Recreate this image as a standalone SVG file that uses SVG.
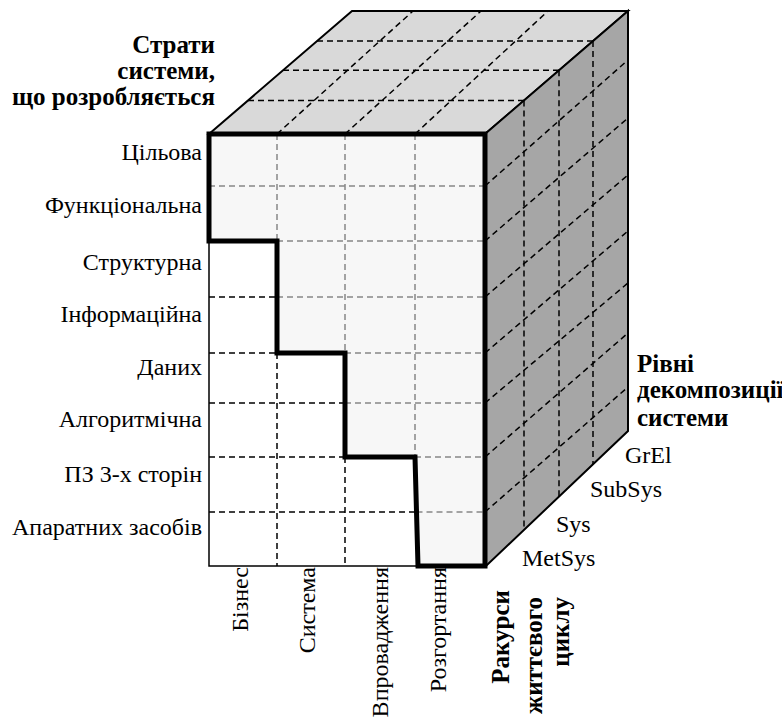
<svg xmlns="http://www.w3.org/2000/svg" width="782" height="718" viewBox="0 0 782 718">
<style>
.t{font-family:"Liberation Serif","Times New Roman",serif;font-size:24px;fill:#000}
.b{font-weight:bold;font-size:25px}
.e{text-anchor:end}
.dk{stroke:#000;stroke-width:1.5;stroke-dasharray:6 4;fill:none}
.dg{stroke:#888;stroke-width:1.5;stroke-dasharray:6 4;fill:none}
</style>
<rect width="782" height="718" fill="#fff"/>
<g id="top-face">
<polygon points="209,134 352,11 628,11 485,134" fill="#d9d9d9" stroke="#000" stroke-width="2" stroke-linejoin="miter"/>
<path class="dk" d="M248,100.4H524M283,70.3H559M317,41.1H593M277,134L413,11M345,134L481,11M415,134L548,11"/>
</g>
<g id="right-face">
<polygon points="485,134 628,11 628,431 486,566" fill="#a6a6a6" stroke="#000" stroke-width="2"/>
<path class="dk" d="M524,100.4V529M559,70.3V496.6M593,41.1V464"/>
<path class="dk" d="M485,186L628,60M485,241L628,118M485,297L628,175M485,353L628,231M485,403L628,283M485,457L628,333M485,512L628,387"/>
</g>
<g id="front-face">
<rect x="209" y="134" width="276" height="432" fill="#fff" stroke="#000" stroke-width="1.5"/>
<polygon points="209,134 485,134 485,566 418,566 415,457 345,457 345,353 277,353 277,241 209,241" fill="#f7f7f7"/>
<path class="dg" d="M209,186H485M277,241H485M277,297H485M345,353H485M345,403H485M415,457H485M416.5,512H485M277,134V241M345,134V353M415,134V457"/>
<path class="dk" d="M209,297H277M209,353H277M209,403H345M209,457H345M209,512H416.5M277,353V566M345,457V566"/>
<polygon points="209,134 485,134 485,566 418,566 415,457 345,457 345,353 277,353 277,241 209,241" fill="none" stroke="#000" stroke-width="5" stroke-linejoin="miter"/>
</g>
<g id="strata-title">
<text class="t b e" x="215" y="53">Страти</text>
<text class="t b e" x="215" y="79">системи,</text>
<text class="t b e" x="215" y="105">що розробляється</text>
</g>
<g id="strata-labels">
<text class="t e" x="202" y="160">Цільова</text>
<text class="t e" x="202" y="213">Функціональна</text>
<text class="t e" x="202" y="270">Структурна</text>
<text class="t e" x="202" y="322">Інформаційна</text>
<text class="t e" x="202" y="375">Даних</text>
<text class="t e" x="202" y="427">Алгоритмічна</text>
<text class="t e" x="202" y="482">ПЗ 3-х сторін</text>
<text class="t e" x="202" y="535">Апаратних засобів</text>
</g>
<g id="lifecycle-labels">
<text class="t e" transform="translate(248,567) rotate(-90)">Бізнес</text>
<text class="t e" transform="translate(315,567) rotate(-90)">Система</text>
<text class="t e" transform="translate(388,567) rotate(-90)">Впровадження</text>
<text class="t e" transform="translate(446,567) rotate(-90)">Розгортання</text>
</g>
<g id="lifecycle-title">
<text class="t b e" transform="translate(509,590) rotate(-90)">Ракурси</text>
<text class="t b e" transform="translate(542,597) rotate(-90)">життєвого</text>
<text class="t b e" transform="translate(569,597) rotate(-90)">циклу</text>
</g>
<g id="levels-title">
<text class="t b" x="637" y="372">Рівні</text>
<text class="t b" x="637" y="398">декомпозиції</text>
<text class="t b" x="637" y="426">системи</text>
</g>
<g id="level-labels">
<text class="t" x="625" y="463">GrEl</text>
<text class="t" x="590" y="497">SubSys</text>
<text class="t" x="556" y="532">Sys</text>
<text class="t" x="522" y="566">MetSys</text>
</g>
</svg>
